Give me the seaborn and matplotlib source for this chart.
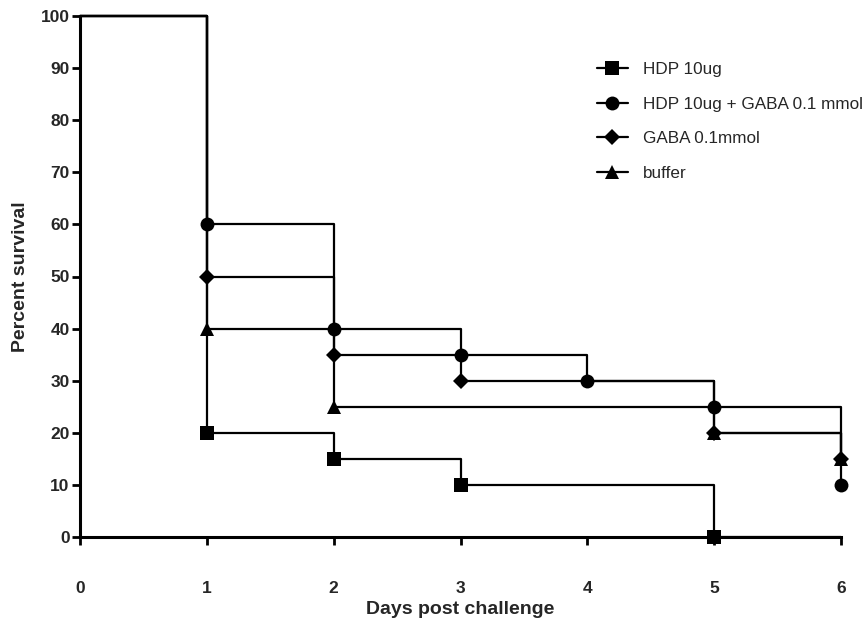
import matplotlib
matplotlib.use("Agg")
import matplotlib.pyplot as plt
from matplotlib.lines import Line2D
import seaborn as sns
import pandas as pd

# ---- data ----
series_names = ["HDP 10ug", "HDP 10ug + GABA 0.1 mmol", "GABA 0.1mmol", "buffer"]
days_hdp = [0, 1, 2, 3, 5, 6]
surv_hdp = [100, 20, 15, 10, 0, 0]
days_combo = [0, 1, 2, 3, 4, 5, 6]
surv_combo = [100, 60, 40, 35, 30, 25, 10]
days_gaba = [0, 1, 2, 3, 5, 6]
surv_gaba = [100, 50, 35, 30, 20, 15]
days_buffer = [0, 1, 2, 5, 6]
surv_buffer = [100, 40, 25, 20, 15]
# indices of points that carry an event marker
marked_hdp = [1, 2, 3, 4]
marked_combo = [1, 2, 3, 4, 5, 6]
marked_gaba = [1, 2, 3, 4, 5]
marked_buffer = [1, 2, 3, 4]

x_ticks = [0, 1, 2, 3, 4, 5, 6]
y_ticks = [0, 10, 20, 30, 40, 50, 60, 70, 80, 90, 100]

sns.set_style("ticks")
plt.rcParams["font.family"] = ["Liberation Sans", "DejaVu Sans"]

fig = plt.figure(figsize=(8.66, 6.27), dpi=100)
ax = fig.add_axes([80 / 866, 1 - 537 / 627, (841 - 80) / 866, (537 - 16) / 627])

series = [
    (days_hdp, surv_hdp, marked_hdp, "s", 9.5),
    (days_combo, surv_combo, marked_combo, "o", 10),
    (days_gaba, surv_gaba, marked_gaba, "D", 8.5),
    (days_buffer, surv_buffer, marked_buffer, "^", 10),
]

handles = []
for name, (d, s, mk, marker, ms) in zip(series_names, series):
    df = pd.DataFrame({"day": d, "surv": s})
    sns.lineplot(data=df, x="day", y="surv", ax=ax, color="black", linewidth=1.6,
                 drawstyle="steps-post", clip_on=False, legend=False)
    dm = df.iloc[mk]
    sns.lineplot(data=dm, x="day", y="surv", ax=ax, color="black", linestyle="none",
                 marker=marker, markersize=ms, markeredgewidth=0, clip_on=False,
                 legend=False, zorder=5)
    handles.append(Line2D([], [], color="black", linewidth=1.6, marker=marker,
                          markersize=ms, markeredgewidth=0, label=name))

ax.set_xlim(0, 6)
ax.set_ylim(0, 100)
ax.set_xticks(x_ticks)
ax.set_yticks(y_ticks)
ax.set_xticklabels([str(v) for v in x_ticks], fontweight="bold", fontsize=12.5)
ax.set_yticklabels([str(v) for v in y_ticks], fontweight="bold", fontsize=12.5)
ax.tick_params(axis="x", direction="out", length=5.5, width=2, pad=26, color="black")
ax.tick_params(axis="y", direction="out", length=5.5, width=2, pad=2, color="black")
for side in ["left", "bottom"]:
    ax.spines[side].set_linewidth(2.2)
    ax.spines[side].set_color("black")
ax.spines["top"].set_visible(False)
ax.spines["right"].set_visible(False)

ax.set_xlabel("Days post challenge", fontweight="bold", fontsize=14, labelpad=4)
ax.set_ylabel("Percent survival", fontweight="bold", fontsize=14, labelpad=8)

leg = fig.legend(handles=handles, loc="upper left",
                 bbox_to_anchor=(597 / 866, 1 - 62 / 627),
                 frameon=False, fontsize=12.3, handlelength=1.8, handletextpad=0.9,
                 labelspacing=1.15, borderpad=0, borderaxespad=0, numpoints=1)

fig.savefig("out.png", dpi=100)
